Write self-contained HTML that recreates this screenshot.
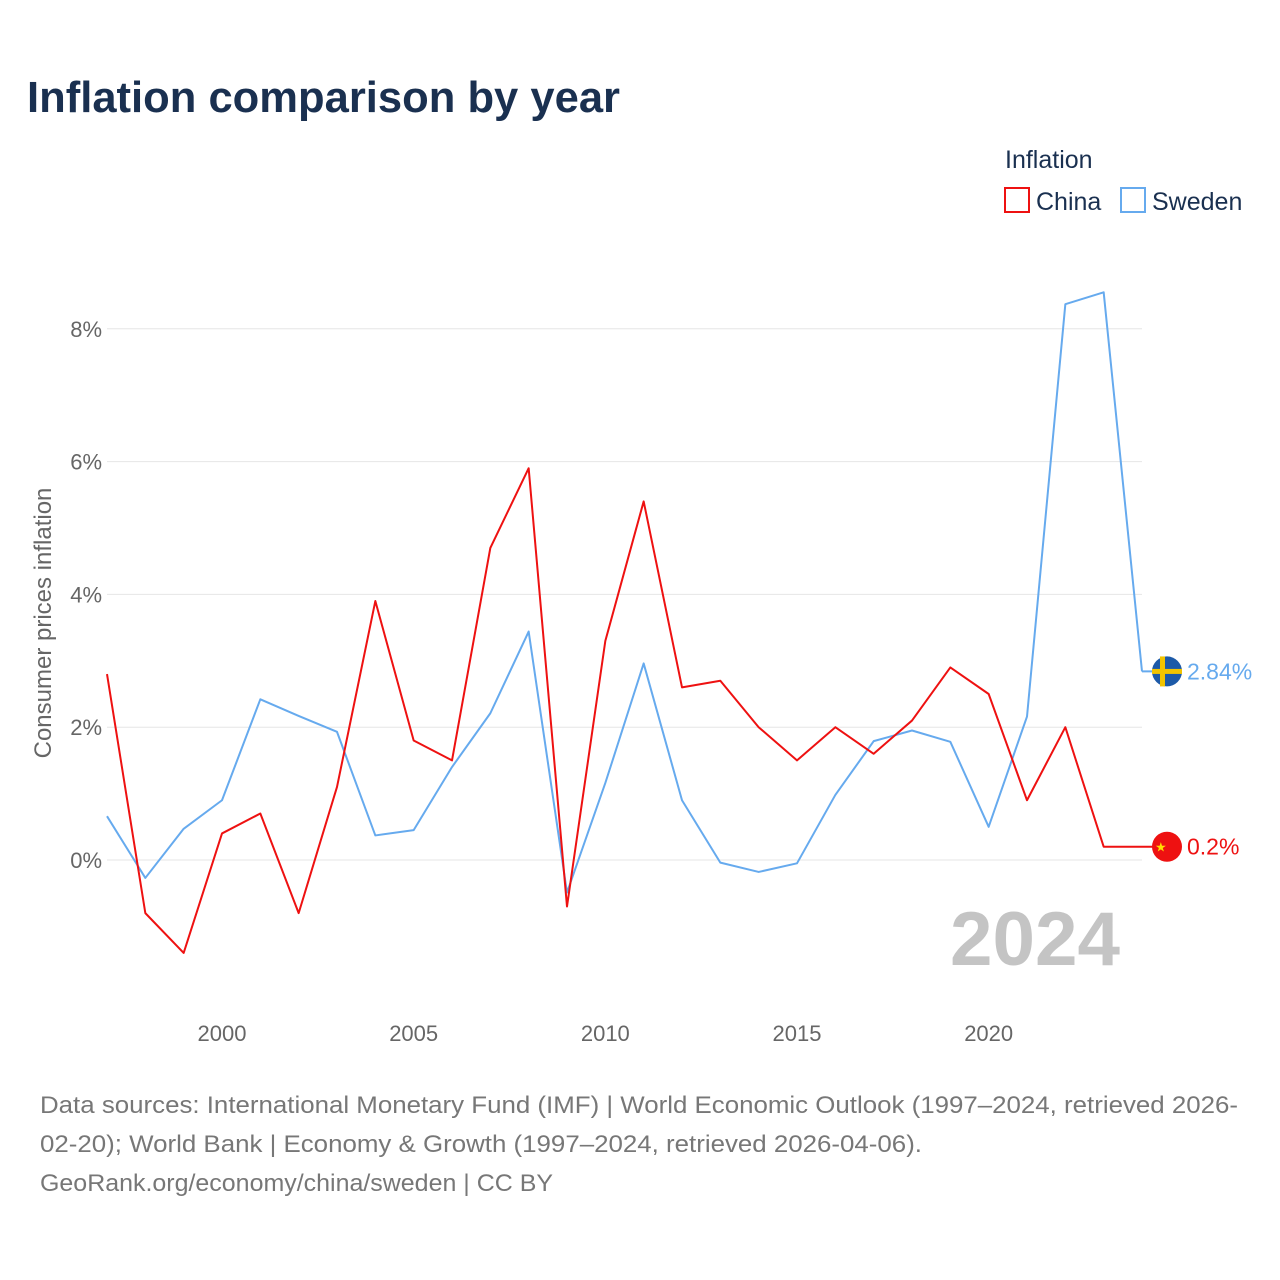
<!DOCTYPE html>
<html><head><meta charset="utf-8">
<style>
body{margin:0;background:#fff;font-family:"Liberation Sans",sans-serif;}
#wrap{position:relative;width:1280px;height:1280px;overflow:hidden;}
</style></head>
<body>
<div id="wrap">
<svg id="chart" width="1280" height="1280" xmlns="http://www.w3.org/2000/svg">
<text x="27" y="112" font-size="44" font-weight="bold" fill="#1a3050" textLength="593" lengthAdjust="spacingAndGlyphs">Inflation comparison by year</text>
<text x="1005" y="168" font-size="25" fill="#1a3050">Inflation</text>
<g><rect x="1005" y="188" width="24" height="24" fill="none" stroke="#ee1111" stroke-width="2"/><text x="1036" y="210" font-size="25" fill="#1a3050">China</text></g>
<g><rect x="1121" y="188" width="24" height="24" fill="none" stroke="#66aaee" stroke-width="2"/><text x="1152" y="210" font-size="25" fill="#1a3050">Sweden</text></g>
<g id="grid"></g>
<g id="xticks"></g>
<text x="950" y="965" font-size="76" font-weight="bold" fill="#c4c4c4" textLength="170" lengthAdjust="spacingAndGlyphs">2024</text>
<text transform="translate(51,623) rotate(-90)" text-anchor="middle" font-size="24" fill="#666">Consumer prices inflation</text>
<g id="series"></g>
<g font-size="24" fill="#777">
<text x="40" y="1113" textLength="1198" lengthAdjust="spacingAndGlyphs">Data sources: International Monetary Fund (IMF) | World Economic Outlook (1997–2024, retrieved 2026-</text>
<text x="40" y="1152" textLength="882" lengthAdjust="spacingAndGlyphs">02-20); World Bank | Economy &amp; Growth (1997–2024, retrieved 2026-04-06).</text>
<text x="40" y="1191" textLength="513" lengthAdjust="spacingAndGlyphs">GeoRank.org/economy/china/sweden | CC BY</text>
</g>
</svg>
</div>
<script>
const years=[1997,1998,1999,2000,2001,2002,2003,2004,2005,2006,2007,2008,2009,2010,2011,2012,2013,2014,2015,2016,2017,2018,2019,2020,2021,2022,2023,2024];
const china=[2.8,-0.8,-1.4,0.4,0.7,-0.8,1.1,3.9,1.8,1.5,4.7,5.9,-0.7,3.3,5.4,2.6,2.7,2.0,1.5,2.0,1.6,2.1,2.9,2.5,0.9,2.0,0.2,0.2];
const sweden=[0.66,-0.27,0.47,0.9,2.42,2.17,1.93,0.37,0.45,1.4,2.21,3.44,-0.49,1.16,2.96,0.9,-0.04,-0.18,-0.05,0.98,1.79,1.95,1.78,0.5,2.16,8.37,8.55,2.84];
const yTicks=[0,2,4,6,8];
const xTicks=[2000,2005,2010,2015,2020];
const NS="http://www.w3.org/2000/svg";
const xS=y=>107+(y-1997)*(1142-107)/27;
const yS=v=>860-v*66.4;
function mk(t,a,p){const e=document.createElementNS(NS,t);for(const k in a)e.setAttribute(k,a[k]);p.appendChild(e);return e;}
const grid=document.getElementById('grid');
yTicks.forEach(v=>{
 const l=mk('line',{x1:107,x2:1142,y1:yS(v),y2:yS(v),stroke:'#e6e6e6','stroke-width':1},grid);
 
 
 const t=mk('text',{x:102,y:yS(v)+8,'text-anchor':'end','font-size':22,fill:'#666'},grid);
 t.textContent=v+'%';
 
 
});
const xt=document.getElementById('xticks');
xTicks.forEach(y=>{
 const t=mk('text',{x:xS(y),y:1041,'text-anchor':'middle','font-size':22,fill:'#666'},xt);
 t.textContent=y;
 
 
});
const sg=document.getElementById('series');
function line(vals,col,name){
 const p=mk('polyline',{points:vals.map((v,i)=>xS(years[i])+','+yS(v)).join(' '),fill:'none',stroke:col,'stroke-width':2,'stroke-linejoin':'round'},sg);
 
 
}
line(sweden,'#66aaee','sweden-line');
line(china,'#ee1111','china-line');
const sv=sweden[sweden.length-1], cv=china[china.length-1];
const sy=yS(sv), cy=yS(cv);
const sf=mk('g',{},sg);


mk('line',{x1:1142,x2:1160,y1:sy,y2:sy,stroke:'#66aaee','stroke-width':2},sf);
mk('circle',{cx:1167,cy:sy,r:15,fill:'#1d5aa8'},sf);
mk('rect',{x:1152,y:sy-2.5,width:30,height:5,fill:'#f2c400'},sf);
mk('rect',{x:1160,y:sy-15,width:5,height:30,fill:'#f2c400'},sf);
const st=mk('text',{x:1187,y:sy+8,'font-size':23,fill:'#66aaee'},sf);st.textContent=sv.toFixed(2)+'%';
const cf=mk('g',{},sg);


mk('line',{x1:1142,x2:1160,y1:cy,y2:cy,stroke:'#ee1111','stroke-width':2},cf);
mk('circle',{cx:1167,cy:cy,r:15,fill:'#ee1111'},cf);
const star=mk('text',{x:1155,y:cy+5,'font-size':13,fill:'#ffde00'},cf);star.textContent='★';
const ct=mk('text',{x:1187,y:cy+8,'font-size':23,fill:'#ee1111'},cf);ct.textContent=cv+'%';
</script>
</body></html>
